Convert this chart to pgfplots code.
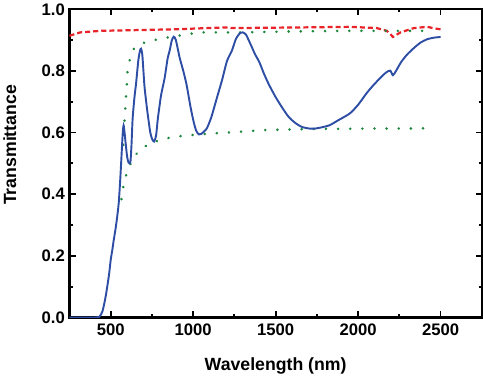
\documentclass[border=0pt]{standalone}
\usepackage{pgfplots}
\pgfplotsset{compat=1.18}
\usepackage{fontspec}
\setmainfont{Liberation Sans}
\definecolor{cblue}{RGB}{46,78,165}
\definecolor{cred}{RGB}{232,36,42}
\definecolor{cgreen}{RGB}{30,135,62}
\begin{document}
\begin{tikzpicture}
\begin{axis}[name=ax,
  axis line style={line width=2.4pt, black},
  scale only axis, width=408pt, height=305pt,
  xmin=250, xmax=2750, ymin=0, ymax=1.0,
  xtick={500,1000,1500,2000,2500},
  minor xtick={750,1250,1750,2250,2750},
  ytick={0,0.2,0.4,0.6,0.8,1.0},
  minor ytick={0.1,0.3,0.5,0.7,0.9},
  xticklabel style={/pgf/number format/1000 sep={}},
  yticklabel style={/pgf/number format/fixed,/pgf/number format/fixed zerofill,/pgf/number format/precision=1},
  /pgf/number format/assume math mode=true,
  tick label style={font=\fontsize{16.5}{18}\selectfont\bfseries},
  xticklabel style={yshift=-3pt},
  yticklabel style={xshift=-1pt},
  tick align=inside,
  major tick length=6pt, minor tick length=3pt,
  tick style={line width=1.8pt, black},
  xlabel={Wavelength (nm)},
  ylabel={Transmittance},
  label style={font=\fontsize{17.5}{20}\selectfont\bfseries},
  xlabel style={at={(axis description cs:0.5,0)}, anchor=center, yshift=-48pt},
  ylabel style={at={(axis description cs:-0.1446,0.56)}, anchor=center},
  clip=true,
]
\addplot[cred, line width=2.2pt, dash pattern=on 5pt off 3pt] coordinates {
(250,0.914) (316,0.925) (439,0.930) (623,0.932) (888,0.935) (1194,0.941) (1235,0.939)
(1644,0.941) (1950,0.943) (2113,0.939) (2174,0.930) (2195,0.920) (2211,0.910)
(2235,0.918) (2257,0.925) (2338,0.939) (2420,0.943) (2460,0.938) (2500,0.935)};
\addplot[cgreen, line width=2.8pt, line cap=round, dash pattern=on 0.01pt off 12pt] coordinates {
(576,0.56) (582,0.624) (592,0.711) (598,0.755) (602,0.799) (618,0.843) (643,0.875)
(704,0.892) (806,0.905) (966,0.919) (1041,0.925) (1284,0.925) (1600,0.928)
(1940,0.930) (2234,0.930) (2420,0.930)};
\addplot[cgreen, line width=2.8pt, line cap=round, dash pattern=on 0.01pt off 12pt] coordinates {
(565,0.384) (577,0.427) (598,0.471) (633,0.515) (673,0.542) (735,0.564) (796,0.575)
(878,0.586) (1031,0.594) (1174,0.599) (1266,0.602) (1429,0.608) (1583,0.610)
(1746,0.612) (1909,0.612) (2100,0.613) (2300,0.613) (2450,0.614)};
\addplot[cblue, line width=1.9pt, smooth, tension=0.4] coordinates {
(250,0) (300,0) (350,0) (400,0) (430,0.002) (450,0.02) (470,0.07) (490,0.14)
(500,0.187) (510,0.22) (518,0.25) (530,0.29) (540,0.33) (549,0.374) (558,0.45)
(567,0.54) (573,0.60) (578,0.623) (584,0.60) (592,0.558) (600,0.52) (608,0.503)
(614,0.500) (620,0.507) (626,0.56) (633,0.646) (645,0.72) (653,0.755) (667,0.832)
(677,0.865) (684,0.872) (692,0.85) (704,0.755) (715,0.70) (725,0.657) (740,0.60)
(752,0.578) (763,0.571) (775,0.59) (786,0.646) (805,0.72) (827,0.777) (845,0.84)
(857,0.865) (870,0.898) (882,0.911) (895,0.90) (918,0.843) (940,0.80) (960,0.755)
(985,0.68) (1005,0.63) (1020,0.604) (1035,0.594) (1050,0.596) (1082,0.613)
(1110,0.65) (1143,0.711) (1175,0.77) (1205,0.832) (1235,0.866) (1260,0.905)
(1285,0.923) (1300,0.925) (1320,0.918) (1345,0.89) (1376,0.853) (1400,0.83)
(1430,0.79) (1460,0.755) (1500,0.715) (1542,0.679) (1580,0.65) (1622,0.63)
(1660,0.618) (1705,0.613) (1740,0.613) (1780,0.617) (1828,0.624) (1880,0.64)
(1950,0.662) (2000,0.69) (2052,0.728) (2090,0.752) (2134,0.777) (2170,0.795)
(2195,0.801) (2211,0.786) (2230,0.80) (2260,0.828) (2297,0.853) (2340,0.875)
(2379,0.892) (2420,0.903) (2461,0.908) (2500,0.910)};
\end{axis}
\end{tikzpicture}
\end{document}
